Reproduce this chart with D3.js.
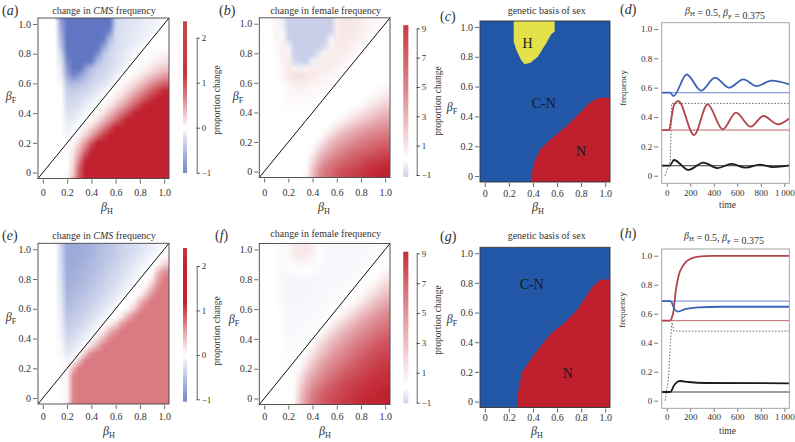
<!DOCTYPE html>
<html>
<head>
<meta charset="utf-8">
<script src="https://cdn.jsdelivr.net/npm/d3@7/dist/d3.min.js"></script>
<style>
  body { margin: 0; background: #fff; }
  svg { display: block; }
  svg text { font-family: "Liberation Serif", "DejaVu Serif", serif !important; fill: #333; }
</style>
</head>
<body>
<svg id="fig" width="795" height="442"></svg>
<script>
// heat map grid: columns are beta_H, rows are beta_F (top row first)
const betaCols = [0, 0.05, 0.1, 0.15, 0.2, 0.25, 0.3, 0.35, 0.4, 0.45, 0.5, 0.55, 0.6, 0.65, 0.7, 0.75, 0.8, 0.85, 0.9, 0.95, 1]
const betaRows = [1, 0.95, 0.9, 0.85, 0.8, 0.75, 0.7, 0.65, 0.6, 0.55, 0.5, 0.45, 0.4, 0.35, 0.3, 0.25, 0.2, 0.15, 0.1, 0.05, 0]
const betaTicks = [0, 0.2, 0.4, 0.6, 0.8, 1]

// (a) change in CMS frequency
const cmsTop = [
  [0,0,0,-0.7,-1,-1,-1,-1,-1,-1,-1,-1,-0.3,-0.22,-0.2,-0.18,-0.15,-0.12,-0.1,-0.06,0],
  [0,0,0,-0.6,-1,-1,-1,-1,-1,-1,-1,-0.85,-0.25,-0.2,-0.2,-0.15,-0.14,-0.1,-0.07,0,0],
  [0,0,0,-0.55,-1,-1,-1,-1,-1,-1,-0.95,-0.5,-0.25,-0.2,-0.18,-0.15,-0.12,-0.08,0,0,0],
  [0,0,0,-0.45,-1,-1,-1,-1,-1,-1,-0.7,-0.35,-0.25,-0.2,-0.15,-0.1,-0.05,0,0,0,0],
  [0,0,0,-0.3,-0.95,-1,-1,-1,-1,-0.8,-0.4,-0.3,-0.22,-0.18,-0.12,-0.06,0,0,0.02,0.04,0.07],
  [0,0,0,-0.2,-0.85,-1,-1,-1,-0.95,-0.5,-0.35,-0.28,-0.2,-0.15,-0.08,0,0,0.02,0.06,0.1,0.15],
  [0,0,0,-0.15,-0.75,-1,-1,-0.7,-0.45,-0.35,-0.3,-0.25,-0.18,-0.1,0,0,0.03,0.08,0.15,0.22,0.3],
  [0,0,0,-0.1,-0.6,-0.85,-0.7,-0.5,-0.38,-0.3,-0.25,-0.2,-0.1,0,0,0.05,0.12,0.22,0.33,0.45,0.55],
  [0,0,0,-0.05,-0.45,-0.5,-0.45,-0.38,-0.3,-0.25,-0.2,-0.1,0,0.02,0.08,0.18,0.3,0.45,0.6,0.75,0.85],
  [0,0,0,0,-0.35,-0.38,-0.33,-0.28,-0.22,-0.15,-0.08,0,0.03,0.1,0.22,0.36,0.52,0.7,0.88,1.02,1.15],
  [0,0,0,0,-0.3,-0.3,-0.25,-0.2,-0.15,-0.05,0,0.03,0.12,0.25,0.42,0.6,0.78,0.95,1.1,1.25,2],
  [0,0,0,0,-0.25,-0.25,-0.2,-0.12,-0.05,0,0.03,0.14,0.3,0.48,0.65,0.85,1.05,1.2,2,2,2],
  [0,0,0,0,-0.2,-0.18,-0.12,-0.05,0,0.05,0.16,0.35,0.55,0.75,0.95,1.15,2,2,2,2,2],
  [0,0,0,0,-0.15,-0.12,-0.05,0,0.05,0.18,0.38,0.6,0.82,1.05,1.25,2,2,2,2,2,2],
  [0,0,0,0,-0.1,-0.05,0,0.08,0.24,0.45,0.7,0.95,1.2,2,2,2,2,2,2,2,2],
  [0,0,0,0,-0.05,0,0.08,0.25,0.5,0.8,1.05,1.25,2,2,2,2,2,2,2,2,2],
  [0,0,0,0,0,0.05,0.25,0.55,0.9,1.2,2,2,2,2,2,2,2,2,2,2,2],
  [0,0,0,0,0,0.12,0.42,0.8,1.15,2,2,2,2,2,2,2,2,2,2,2,2],
  [0,0,0,0,0,0.18,0.6,1.1,1.3,2,2,2,2,2,2,2,2,2,2,2,2],
  [0,0,0,0,0,0.24,0.8,1.25,2,2,2,2,2,2,2,2,2,2,2,2,2],
  [0,0,0,0,0.03,0.3,0.9,2,2,2,2,2,2,2,2,2,2,2,2,2,2]
]

// (b) change in female frequency
const femTop = [
  [0,0,0.5,-0.3,-1,-1,-1,-1,-1,-1,-1,-1,0.6,1.1,1,0.85,0.7,0.5,0.35,0.2,0],
  [0,0,0.45,-0.1,-1,-1,-1,-1,-1,-1,-1,-0.9,0.7,1.05,0.95,0.8,0.62,0.45,0.3,0,0],
  [0,0,0.35,0.3,-0.9,-1,-1,-1,-1,-1,-1,-0.2,0.9,0.95,0.85,0.7,0.5,0.3,0,0,0],
  [0,0,0.25,0.6,-0.3,-1,-1,-1,-1,-1,-0.7,0.5,0.9,0.82,0.68,0.5,0.3,0,0,0,0],
  [0,0,0.15,0.6,0.4,-1,-1,-1,-1,-0.5,0.5,0.85,0.78,0.65,0.5,0.3,0,0,0,0,0],
  [0,0,0.1,0.5,0.8,-0.8,-1,-1,-0.3,0.6,0.85,0.75,0.65,0.5,0.3,0,0,0,0,0,0],
  [0,0,0,0.4,0.9,0.5,-0.3,0.5,0.8,0.8,0.7,0.6,0.45,0.3,0,0,0,0,0,0,0],
  [0,0,0,0.3,0.8,1.2,1.2,1,0.8,0.6,0.5,0.4,0.3,0,0,0,0,0,0,0,0],
  [0,0,0,0.2,0.5,0.8,0.8,0.65,0.5,0.4,0.3,0.2,0,0,0,0,0,0,0,0,0.1],
  [0,0,0,0,0.3,0.45,0.45,0.38,0.3,0.25,0.15,0,0,0,0,0,0,0,0,0.2,0.5],
  [0,0,0,0,0.2,0.3,0.3,0.25,0.2,0.1,0,0,0,0,0,0,0,0.1,0.4,0.7,1.1],
  [0,0,0,0,0.1,0.15,0.15,0.12,0.08,0,0,0,0,0,0,0,0.3,0.7,1.1,1.5,1.9],
  [0,0,0,0,0,0,0,0,0,0,0,0,0,0,0.3,0.7,1.1,1.5,2,2.4,2.8],
  [0,0,0,0,0,0,0,0,0,0,0,0,0.2,0.6,1.1,1.6,2.1,2.6,3,3.4,3.7],
  [0,0,0,0,0,0,0,0,0,0,0,0.4,1,1.7,2.3,2.8,3.3,3.7,4.1,4.4,4.6],
  [0,0,0,0,0,0,0,0,0,0,0.5,1.4,2.3,2.9,3.4,3.9,4.3,4.7,5,5.2,5.4],
  [0,0,0,0,0,0,0,0,0,0.6,1.5,2.6,3.3,3.9,4.4,4.8,5.2,5.5,5.8,6,6.2],
  [0,0,0,0,0,0,0,0,0.4,1.5,2.7,3.6,4.3,4.9,5.3,5.7,6,6.3,6.6,6.8,7],
  [0,0,0,0,0,0,0,0,1,2.6,3.8,4.6,5.2,5.7,6.1,6.5,6.8,7.1,7.4,7.6,7.8],
  [0,0,0,0,0,0,0,0.1,1.8,3.5,4.8,5.5,6,6.5,6.8,7.1,7.5,7.9,8.2,8.4,8.5],
  [0,0,0,0,0,0,0,0.3,2.5,4.5,5.5,6,6.8,7.2,7.5,7.8,8.1,8.4,8.6,8.8,9]
]

// (e) change in CMS frequency
const cmsBottom = [
  [0,0,0,-0.3,-0.62,-0.62,-0.6,-0.58,-0.55,-0.5,-0.46,-0.42,-0.37,-0.32,-0.28,-0.24,-0.2,-0.15,-0.1,-0.05,0],
  [0,0,0,-0.3,-0.62,-0.62,-0.6,-0.57,-0.53,-0.48,-0.44,-0.4,-0.35,-0.3,-0.25,-0.2,-0.16,-0.11,-0.06,0,0.06],
  [0,0,0,-0.28,-0.6,-0.6,-0.58,-0.55,-0.5,-0.46,-0.42,-0.37,-0.32,-0.27,-0.22,-0.17,-0.12,-0.06,0,0.06,0.23],
  [0,0,0,-0.26,-0.6,-0.58,-0.55,-0.52,-0.48,-0.43,-0.38,-0.33,-0.28,-0.23,-0.18,-0.12,-0.06,0,0,0.35,0.58],
  [0,0,0,-0.24,-0.58,-0.56,-0.53,-0.5,-0.45,-0.4,-0.35,-0.3,-0.25,-0.2,-0.14,-0.07,0,0,0.12,0.52,0.7],
  [0,0,0,-0.22,-0.56,-0.54,-0.5,-0.46,-0.42,-0.37,-0.32,-0.27,-0.22,-0.15,-0.08,0,0,0.06,0.35,0.64,0.72],
  [0,0,0,-0.2,-0.54,-0.5,-0.47,-0.43,-0.38,-0.33,-0.28,-0.22,-0.16,-0.08,0,0,0.06,0.29,0.58,0.72,0.72],
  [0,0,0,-0.18,-0.5,-0.47,-0.43,-0.39,-0.34,-0.29,-0.23,-0.17,-0.09,0,0,0.06,0.35,0.58,0.72,0.72,0.72],
  [0,0,0,-0.16,-0.47,-0.43,-0.39,-0.34,-0.29,-0.23,-0.17,-0.09,0,0,0.06,0.29,0.58,0.72,0.72,0.72,0.72],
  [0,0,0,-0.14,-0.43,-0.39,-0.34,-0.29,-0.23,-0.17,-0.09,0,0,0.12,0.4,0.64,0.72,0.72,0.72,0.72,0.72],
  [0,0,0,-0.12,-0.38,-0.34,-0.29,-0.23,-0.17,-0.09,0,0.06,0.23,0.52,0.7,0.72,0.72,0.72,0.72,0.72,0.72],
  [0,0,0,-0.1,-0.33,-0.29,-0.23,-0.17,-0.09,0,0.12,0.4,0.58,0.72,0.72,0.72,0.72,0.72,0.72,0.72,0.72],
  [0,0,0,-0.08,-0.28,-0.23,-0.17,-0.09,0,0.17,0.4,0.64,0.72,0.72,0.72,0.72,0.72,0.72,0.72,0.72,0.72],
  [0,0,0,-0.05,-0.22,-0.17,-0.09,0,0.23,0.46,0.7,0.72,0.72,0.72,0.72,0.72,0.72,0.72,0.72,0.72,0.72],
  [0,0,0,-0.03,-0.15,-0.08,0,0.35,0.64,0.72,0.72,0.72,0.72,0.72,0.72,0.72,0.72,0.72,0.72,0.72,0.72],
  [0,0,0,0,-0.08,0,0.35,0.72,0.72,0.72,0.72,0.72,0.72,0.72,0.72,0.72,0.72,0.72,0.72,0.72,0.72],
  [0,0,0,0,0,0.4,0.72,0.72,0.72,0.72,0.72,0.72,0.72,0.72,0.72,0.72,0.72,0.72,0.72,0.72,0.72],
  [0,0,0,0,0.06,0.64,0.72,0.72,0.72,0.72,0.72,0.72,0.72,0.72,0.72,0.72,0.72,0.72,0.72,0.72,0.72],
  [0,0,0,0,0.06,0.64,0.72,0.72,0.72,0.72,0.72,0.72,0.72,0.72,0.72,0.72,0.72,0.72,0.72,0.72,0.72],
  [0,0,0,0,0.06,0.64,0.72,0.72,0.72,0.72,0.72,0.72,0.72,0.72,0.72,0.72,0.72,0.72,0.72,0.72,0.72],
  [0,0,0,0,0.06,0.64,0.72,0.72,0.72,0.72,0.72,0.72,0.72,0.72,0.72,0.72,0.72,0.72,0.72,0.72,0.72]
]

// (f) change in female frequency
const femBottom = [
  [0,0,0,-0.1,0.3,0.8,1,1,0.6,0.1,-0.1,-0.15,-0.15,-0.15,-0.15,-0.15,-0.15,-0.12,-0.1,-0.05,0],
  [0,0,0,-0.1,0.2,0.6,0.8,0.7,0.4,0,-0.1,-0.15,-0.15,-0.15,-0.15,-0.15,-0.12,-0.1,-0.06,0,0],
  [0,0,0,-0.1,0,0.2,0.3,0.25,0.1,-0.05,-0.12,-0.15,-0.15,-0.15,-0.15,-0.12,-0.1,-0.06,0,0,0.1],
  [0,0,0,-0.12,-0.1,0,0,0,-0.05,-0.12,-0.15,-0.15,-0.15,-0.15,-0.12,-0.1,-0.06,0,0,0.1,0.5],
  [0,0,0,-0.12,-0.18,-0.18,-0.18,-0.18,-0.17,-0.16,-0.15,-0.15,-0.14,-0.12,-0.1,-0.06,0,0,0.1,0.5,1.1],
  [0,0,0,-0.12,-0.18,-0.18,-0.18,-0.18,-0.17,-0.15,-0.14,-0.13,-0.12,-0.1,-0.06,0,0,0.2,0.6,1.2,1.8],
  [0,0,0,-0.1,-0.18,-0.18,-0.18,-0.17,-0.16,-0.14,-0.12,-0.1,-0.08,-0.05,0,0,0.2,0.7,1.3,2,2.6],
  [0,0,0,-0.1,-0.17,-0.17,-0.16,-0.15,-0.14,-0.12,-0.1,-0.08,-0.05,0,0,0.3,0.8,1.5,2.2,2.9,3.4],
  [0,0,0,-0.08,-0.16,-0.16,-0.15,-0.14,-0.12,-0.1,-0.08,-0.05,0,0.1,0.5,1.1,1.8,2.5,3.1,3.7,4.2],
  [0,0,0,-0.08,-0.15,-0.15,-0.14,-0.12,-0.1,-0.08,-0.05,0,0.2,0.8,1.5,2.2,2.9,3.5,4,4.5,4.9],
  [0,0,0,-0.06,-0.14,-0.14,-0.12,-0.1,-0.08,-0.05,0,0.4,1.2,1.9,2.6,3.2,3.8,4.3,4.8,5.2,5.5],
  [0,0,0,-0.05,-0.12,-0.12,-0.1,-0.08,-0.05,0,0.5,1.4,2.1,2.8,3.4,4,4.5,5,5.4,5.8,6.1],
  [0,0,0,-0.04,-0.1,-0.1,-0.08,-0.05,0,0.6,1.5,2.3,3,3.6,4.2,4.7,5.2,5.6,6,6.4,6.7],
  [0,0,0,-0.03,-0.08,-0.08,-0.05,0,0.5,1.4,2.3,3.1,3.7,4.3,4.8,5.3,5.8,6.2,6.6,6.9,7.1],
  [0,0,0,-0.02,-0.06,-0.05,0,0.3,1.2,2.2,3,3.8,4.4,4.9,5.4,5.9,6.3,6.7,7,7.3,7.5],
  [0,0,0,0,-0.04,0,0.1,0.9,2,3,3.8,4.5,5,5.5,6,6.4,6.8,7.1,7.4,7.7,7.9],
  [0,0,0,0,0,0,0.5,1.6,2.8,3.7,4.5,5.1,5.6,6.1,6.5,6.9,7.2,7.5,7.8,8,8.2],
  [0,0,0,0,0,0.2,1,2.5,3.6,4.4,5.1,5.7,6.2,6.7,7,7.3,7.6,7.9,8.1,8.3,8.4],
  [0,0,0,0,0,0.2,1.6,3.2,4.3,5,5.8,6.3,6.8,7.2,7.5,7.8,8,8.2,8.4,8.5,8.6],
  [0,0,0,0,0,0.2,2.2,3.8,5,5.8,6.4,6.8,7.1,7.5,7.8,8,8.3,8.5,8.6,8.8,8.9],
  [0,0,0,0,0,0.3,2.5,4.2,5.5,6.2,6.8,7.2,7.5,7.8,8,8.3,8.5,8.7,8.8,8.9,9]
]

// (c), (g) genetic basis of sex: outlines [beta_H, beta_F]
const hRegionTop = [[0.24,1.04],[0.24,0.9],[0.26,0.85],[0.3,0.78],[0.33,0.75],[0.38,0.76],[0.44,0.8],[0.51,0.89],[0.55,0.95],[0.58,0.97],[0.58,1.04]]
const nRegionTop = [[0.38,-0.04],[0.39,0.02],[0.41,0.09],[0.46,0.18],[0.55,0.25],[0.66,0.32],[0.76,0.4],[0.87,0.49],[0.93,0.52],[0.98,0.525],[1.04,0.525],[1.04,-0.04]]
const nRegionBottom = [[0.275,-0.04],[0.275,0.03],[0.28,0.085],[0.31,0.2],[0.36,0.26],[0.44,0.35],[0.55,0.46],[0.66,0.53],[0.77,0.62],[0.85,0.72],[0.9,0.78],[0.96,0.82],[1.04,0.825],[1.04,-0.04]]

// (d), (h) dynamics at beta_H = 0.5, beta_F = 0.375: [time, frequency]
const timeTicks = [0, 200, 400, 600, 800, 1000]
const freqTicks = [0, 0.2, 0.4, 0.6, 0.8, 1]
const dBlue = [[-42,0.566],[28,0.566],[57,0.543],[170,0.69],[292,0.58],[411,0.668],[530,0.6],[652,0.657],[765,0.611],[892,0.648],[1042,0.622]]
const dRed = [[-42,0.311],[20,0.311],[42,0.4],[62,0.482],[99,0.509],[232,0.277],[348,0.486],[476,0.316],[589,0.43],[714,0.334],[822,0.407],[945,0.35],[1042,0.39]]
const dBlack = [[-42,0.068],[25,0.068],[62,0.107],[184,0.039],[312,0.089],[433,0.052],[552,0.08],[671,0.055],[793,0.075],[906,0.059],[1042,0.07]]
const dDotted = [[-14,0],[10,0.06],[30,0.1],[37,0.3],[42,0.493],[1042,0.493]]
const dEq = { blue: 0.566, red: 0.311, black: 0.068 }
const hRed = [[-42,0.552],[28,0.552],[45,0.575],[57,0.614],[76,0.752],[99,0.855],[142,0.936],[198,0.977],[269,0.993],[382,0.999],[1042,0.999]]
const hBlue = [[-42,0.687],[28,0.687],[45,0.675],[57,0.648],[94,0.614],[156,0.632],[269,0.644],[467,0.648],[1042,0.648]]
const hBlack = [[-42,0.06],[28,0.06],[45,0.075],[57,0.097],[85,0.126],[113,0.136],[184,0.129],[326,0.122],[1042,0.12]]
const hDotted = [[-14,0],[15,0.15],[32,0.4],[42,0.53],[48,0.54],[60,0.48],[1042,0.48]]
const hEq = { blue: 0.687, red: 0.552, black: 0.06 }

const cmsColor = d3.scaleLinear().domain([-1, 0, 1.2]).range(["#6076c3", "#ffffff", "#c1212e"]).clamp(true)
const femColor = d3.scaleLinear().domain([-1, 0, 9]).range(["#c9cfe9", "#ffffff", "#c0212e"]).clamp(true)

const svg = d3.select("#fig")
const serif = '"Liberation Serif", "DejaVu Serif", serif'
const betaDomain = [-0.04, 1.04]
const fmt1 = d => d === 0 ? "0" : d3.format(".1f")(d)

function betaTspans(t, sub, size) {
    t.append("tspan").attr("font-style", "italic").attr("font-size", size).text("β")
    t.append("tspan").attr("font-size", size * 0.68).attr("dy", size * 0.28).text(sub)
    t.append("tspan").attr("font-size", size).attr("dy", -size * 0.28).text("")
}

function panelLabel(x, cy, letter) {
    let t = svg.append("text").attr("x", x).attr("y", cy + 5).attr("font-size", 14)
    t.append("tspan").text("(")
    t.append("tspan").attr("font-style", "italic").text(letter)
    t.append("tspan").text(")")
}

function heatImage(grid, color, x, y, box) {
    let nr = grid.length, nc = grid[0].length
    let small = document.createElement("canvas")
    small.width = nc
    small.height = nr
    let sctx = small.getContext("2d")
    let img = sctx.createImageData(nc, nr)
    grid.forEach((row, i) => row.forEach((v, j) => {
        let c = d3.rgb(color(v)), k = (i * nc + j) * 4
        img.data[k] = c.r
        img.data[k + 1] = c.g
        img.data[k + 2] = c.b
        img.data[k + 3] = 255
    }))
    sctx.putImageData(img, 0, 0)
    let s = 3
    let big = document.createElement("canvas")
    big.width = Math.round((box.x1 - box.x0) * s)
    big.height = Math.round((box.y1 - box.y0) * s)
    let ctx = big.getContext("2d")
    ctx.imageSmoothingEnabled = true
    let px = v => (x(v) - box.x0) * s
    let py = v => (y(v) - box.y0) * s
    let hx = (betaCols[1] - betaCols[0]) / 2
    let hy = (betaRows[0] - betaRows[1]) / 2
    // whole box first (fills the margins), then cells on their own centres
    ctx.drawImage(small, 0, 0, big.width, big.height)
    let x0 = px(betaCols[0] - hx), x1 = px(betaCols[nc - 1] + hx)
    let y0 = py(betaRows[0] + hy), y1 = py(betaRows[nr - 1] - hy)
    ctx.drawImage(small, x0, y0, x1 - x0, y1 - y0)
    return big.toDataURL()
}

function betaAxes(g, x, y, box, lab) {
    let ax = g.append("g").attr("transform", `translate(0,${box.y1 + 1})`)
        .call(d3.axisBottom(x).tickValues(betaTicks).tickFormat(fmt1).tickSize(4).tickPadding(5))
    ax.select(".domain").remove()
    ax.selectAll("text").attr("y", lab.tickY - box.y1 - 1).attr("dy", "0.35em")
    let ay = g.append("g").attr("transform", `translate(${box.x0 - 1},0)`)
        .call(d3.axisLeft(y).tickValues(betaTicks).tickFormat(fmt1).tickSize(4).tickPadding(2))
    ay.select(".domain").remove()
    g.selectAll(".tick line").attr("stroke", "#444").attr("stroke-width", 0.8)
    g.selectAll(".tick text").attr("font-size", 10)
    let th = g.append("text").attr("x", lab.hx).attr("y", lab.hy + 3).attr("text-anchor", "middle")
    betaTspans(th, "H", 12)
    let tf = g.append("text").attr("x", lab.fx).attr("y", lab.fy + 3).attr("text-anchor", "middle")
    betaTspans(tf, "F", 12)
}

function frame(g, box, color) {
    g.append("rect").attr("x", box.x0).attr("y", box.y0)
        .attr("width", box.x1 - box.x0).attr("height", box.y1 - box.y0)
        .attr("fill", "none").attr("stroke", color).attr("stroke-width", 0.9)
}

function title(x, cy, build) {
    let t = svg.append("text").attr("x", x).attr("y", cy + 3.5).attr("text-anchor", "middle").attr("font-size", 10)
    build(t)
}

function drawHeat(id, box, grid, color, lab) {
    let g = svg.append("g")
    let x = d3.scaleLinear().domain(betaDomain).range([box.x0, box.x1])
    let y = d3.scaleLinear().domain(betaDomain).range([box.y1, box.y0])
    g.append("image").attr("href", heatImage(grid, color, x, y, box))
        .attr("x", box.x0).attr("y", box.y0)
        .attr("width", box.x1 - box.x0).attr("height", box.y1 - box.y0)
        .attr("preserveAspectRatio", "none")
    g.append("line")
        .attr("x1", x(betaDomain[0])).attr("y1", y(betaDomain[0]))
        .attr("x2", x(betaDomain[1])).attr("y2", y(betaDomain[1]))
        .attr("stroke", "#111").attr("stroke-width", 1)
    frame(g, box, "#444")
    betaAxes(g, x, y, box, lab)
}

function drawColorbar(cb, color) {
    let g = svg.append("g")
    let s = d3.scaleLinear().domain([cb.ticks[0], cb.ticks[cb.ticks.length - 1]]).range([cb.yMin, cb.yMax])
    let n = Math.ceil(Math.abs(s(cb.hi) - s(cb.lo)))
    let vals = d3.range(n).map(i => cb.lo + (cb.hi - cb.lo) * (i + 0.5) / n)
    g.selectAll("rect.cb").data(vals).enter().append("rect")
        .attr("x", cb.x).attr("width", cb.w)
        .attr("y", d => s(d) - 0.6).attr("height", 1.2)
        .attr("fill", d => color(d))
    let ax = g.append("g").attr("transform", `translate(${cb.lineX},0)`)
        .call(d3.axisRight(s).tickValues(cb.ticks).tickFormat(d3.format("d")).tickSize(3).tickSizeOuter(0).tickPadding(2))
    ax.attr("color", "#444")
    ax.selectAll("text").attr("font-size", 9)
    ax.select(".domain").attr("stroke-width", 0.8)
    g.append("text").attr("transform", `translate(${cb.tx},${cb.ty}) rotate(-90)`)
        .attr("text-anchor", "middle").attr("dy", "0.35em").attr("font-size", 9.5).text("proportion change")
}

function drawSex(id, box, regions, labels, lab) {
    let g = svg.append("g")
    let x = d3.scaleLinear().domain(betaDomain).range([box.x0, box.x1])
    let y = d3.scaleLinear().domain(betaDomain).range([box.y1, box.y0])
    g.append("clipPath").attr("id", "clip" + id).append("rect")
        .attr("x", box.x0).attr("y", box.y0).attr("width", box.x1 - box.x0).attr("height", box.y1 - box.y0)
    let inner = g.append("g").attr("clip-path", `url(#clip${id})`)
    inner.append("rect").attr("x", box.x0).attr("y", box.y0)
        .attr("width", box.x1 - box.x0).attr("height", box.y1 - box.y0).attr("fill", "#2257a7")
    let line = d3.line().x(d => x(d[0])).y(d => y(d[1]))
    regions.forEach(r => {
        inner.append("path").attr("d", line(r.pts) + "Z").attr("fill", r.fill)
    })
    labels.forEach(l => {
        g.append("text").attr("x", x(l.bh)).attr("y", y(l.bf)).attr("dy", "0.35em")
            .attr("text-anchor", "middle").attr("font-size", 14).style("fill", "#1a1a1a").text(l.text)
    })
    frame(g, box, "#333")
    betaAxes(g, x, y, box, lab)
}

function drawDynamics(id, box, yTick0, yTick1, series, eq, lab) {
    let g = svg.append("g")
    let x = d3.scaleLinear().domain([-42.5, 1042]).range([box.x0, box.x1])
    let y = d3.scaleLinear().domain([0, 1]).range([yTick0, yTick1])
    g.append("clipPath").attr("id", "clip" + id).append("rect")
        .attr("x", box.x0).attr("y", box.y0).attr("width", box.x1 - box.x0).attr("height", box.y1 - box.y0)
    let inner = g.append("g").attr("clip-path", `url(#clip${id})`)
    let eqLines = [
        { v: eq.blue, c: "#86a0da", w: 1.4 },
        { v: eq.red, c: "#b8686b", w: 1 },
        { v: eq.black, c: "#3a3a3a", w: 1 }
    ]
    eqLines.forEach(e => {
        inner.append("line").attr("x1", box.x0).attr("x2", box.x1)
            .attr("y1", y(e.v)).attr("y2", y(e.v))
            .attr("stroke", e.c).attr("stroke-width", e.w)
    })
    let line = d3.line().x(d => x(d[0])).y(d => y(d[1])).curve(d3.curveMonotoneX)
    inner.append("path").attr("d", d3.line().x(d => x(d[0])).y(d => y(d[1]))(series.dotted))
        .attr("fill", "none").attr("stroke", "#6f6f6f").attr("stroke-width", 1).attr("stroke-dasharray", "1.6,1.6")
    ;[[series.black, "#1c1c1c"], [series.red, "#b2444b"], [series.blue, "#3b63b5"]].forEach(s => {
        inner.append("path").attr("d", line(s[0])).attr("fill", "none")
            .attr("stroke", s[1]).attr("stroke-width", 1.8)
    })
    frame(g, box, "#9a9a9a")
    let ax = g.append("g").attr("transform", `translate(0,${box.y1 + 0.5})`)
        .call(d3.axisBottom(x).tickValues(timeTicks).tickFormat(d => d === 1000 ? "1\u2009000" : d).tickSize(3).tickPadding(3))
    ax.select(".domain").remove()
    ax.selectAll("text").attr("y", lab.tickY - box.y1 - 0.5).attr("dy", "0.35em")
    let ay = g.append("g").attr("transform", `translate(${box.x0 - 3.5},0)`)
        .call(d3.axisLeft(y).tickValues(freqTicks).tickFormat(fmt1).tickSize(4).tickPadding(2))
    ay.select(".domain").remove()
    g.selectAll(".tick line").attr("stroke", "#555").attr("stroke-width", 0.8)
    g.selectAll(".tick text").attr("font-size", 9)
    g.append("text").attr("x", (box.x0 + box.x1) / 2 + 2).attr("y", lab.timeY + 3).attr("text-anchor", "middle")
        .attr("font-size", 9.5).text("time")
    g.append("text").attr("transform", `translate(${lab.fx},${lab.fy}) rotate(-90)`)
        .attr("text-anchor", "middle").attr("dy", "0.35em").attr("font-size", 9).text("frequency")
}

function cmsTitle(t) {
    t.append("tspan").text("change in ")
    t.append("tspan").attr("font-style", "italic").text("CMS")
    t.append("tspan").text(" frequency")
}
function femTitle(t) { t.text("change in female frequency") }
function sexTitle(t) { t.text("genetic basis of sex") }
function dynTitle(t) {
    betaTspans(t, "H", 10)
    t.append("tspan").text(" = 0.5, ")
    betaTspans(t, "F", 10)
    t.append("tspan").text(" = 0.375")
}

// top row
drawHeat("a", { x0: 38, x1: 169, y0: 18, y1: 178.5 }, cmsTop, cmsColor, { tickY: 192.7, hx: 107, hy: 208, fx: 11, fy: 97 })
drawColorbar({ x: 183, w: 4, lo: -1, hi: 2.36, ticks: [-1, 0, 1, 2], yMin: 172.7, yMax: 37.7, lineX: 196.7, tx: 217, ty: 100 }, cmsColor)
drawHeat("b", { x0: 259.3, x1: 390, y0: 17.8, y1: 177.5 }, femTop, femColor, { tickY: 192.7, hx: 324, hy: 208, fx: 238, fy: 97 })
drawColorbar({ x: 403.3, w: 5, lo: -1.12, hi: 9.2, ticks: [-1, 1, 3, 5, 7, 9], yMin: 175, yMax: 28.3, lineX: 416.7, tx: 438, ty: 101 }, femColor)
drawSex("c", { x0: 480, x1: 610, y0: 21, y1: 182 },
    [{ pts: hRegionTop, fill: "#e3e24b" }, { pts: nRegionTop, fill: "#c0202e" }],
    [{ text: "H", bh: 0.356, bf: 0.89 }, { text: "C-N", bh: 0.49, bf: 0.486 }, { text: "N", bh: 0.8, bf: 0.17 }],
    { tickY: 193.5, hx: 538, hy: 208, fx: 452, fy: 108 })
drawDynamics("d", { x0: 661.7, x1: 789.3, y0: 22.7, y1: 183.3 }, 175.7, 29,
    { blue: dBlue, red: dRed, black: dBlack, dotted: dDotted }, dEq, { tickY: 192.7, timeY: 205, fx: 623, fy: 88 })

// bottom row
drawHeat("e", { x0: 38, x1: 169, y0: 243.3, y1: 404 }, cmsBottom, cmsColor, { tickY: 416.5, hx: 109, hy: 431.5, fx: 11, fy: 318 })
drawColorbar({ x: 183, w: 4, lo: -1.05, hi: 2.4, ticks: [-1, 0, 1, 2], yMin: 399.3, yMax: 266, lineX: 196.7, tx: 217, ty: 331 }, cmsColor)
drawHeat("f", { x0: 259.3, x1: 390, y0: 243.5, y1: 404.5 }, femBottom, femColor, { tickY: 416.5, hx: 325, hy: 431.5, fx: 234, fy: 320 })
drawColorbar({ x: 403.3, w: 5, lo: -1.04, hi: 9.1, ticks: [-1, 1, 3, 5, 7, 9], yMin: 402.7, yMax: 253.3, lineX: 416.7, tx: 438, ty: 320 }, femColor)
drawSex("g", { x0: 480, x1: 610, y0: 247.3, y1: 407.5 },
    [{ pts: nRegionBottom, fill: "#c0202e" }],
    [{ text: "C-N", bh: 0.39, bf: 0.79 }, { text: "N", bh: 0.69, bf: 0.195 }],
    { tickY: 417.5, hx: 537, hy: 431.5, fx: 452, fy: 320 })
drawDynamics("h", { x0: 661.7, x1: 789.3, y0: 249, y1: 408.3 }, 400.7, 255.7,
    { blue: hBlue, red: hRed, black: hBlack, dotted: hDotted }, hEq, { tickY: 417, timeY: 430.7, fx: 622, fy: 310 })

// titles and panel letters
title(104, 10, cmsTitle)
title(325.7, 10, femTitle)
title(546.7, 10, sexTitle)
title(725, 10, dynTitle)
title(104, 235, cmsTitle)
title(325.7, 233.5, femTitle)
title(546.7, 235, sexTitle)
title(724, 235, dynTitle)

panelLabel(2, 10, "a")
panelLabel(219, 9.5, "b")
panelLabel(440, 16, "c")
panelLabel(620, 8.5, "d")
panelLabel(2, 235, "e")
panelLabel(215, 235, "f")
panelLabel(440, 235.5, "g")
panelLabel(620, 233, "h")

svg.selectAll("text").style("font-family", serif)
</script>
</body>
</html>
